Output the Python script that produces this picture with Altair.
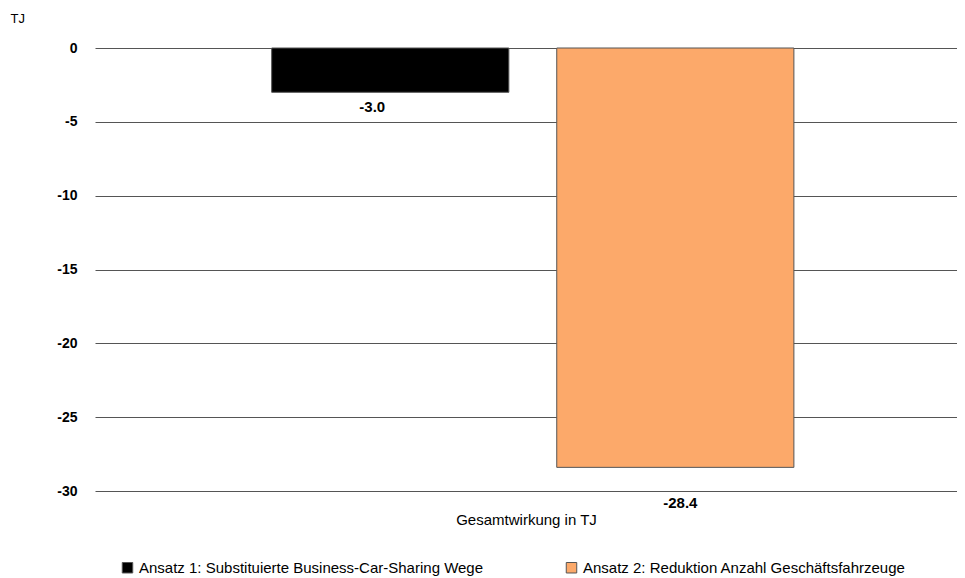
import altair as alt
import pandas as pd

series = ["Ansatz 1: Substituierte Business-Car-Sharing Wege",
          "Ansatz 2: Reduktion Anzahl Geschäftsfahrzeuge"]
values = [-3.0, -28.4]
labels = ["-3.0", "-28.4"]
colors = ["#000000", "#FCA96A"]
category = "Gesamtwirkung in TJ"

df = pd.DataFrame({"series": series, "value": values, "label": labels})

x = alt.X("series:N", sort=series,
          scale=alt.Scale(paddingInner=0.168, paddingOuter=0.596, align=0.52),
          axis=alt.Axis(title=category, labels=False, ticks=False, domain=False,
                        titleFont="Liberation Sans", titleFontSize=15,
                        titleFontWeight="normal", titlePadding=21, titleColor="#000"))
y = alt.Y("value:Q", scale=alt.Scale(domain=[-30, 0], nice=False),
          axis=alt.Axis(values=[0, -5, -10, -15, -20, -25, -30], ticks=False, domain=False,
                        labelExpr="datum.value < 0 ? '-' + abs(datum.value) : '' + datum.value",
                        labelFont="Liberation Sans", labelFontSize=14, labelFontWeight="bold",
                        labelColor="#000", labelPadding=18,
                        gridColor="#555555", gridWidth=1, gridOpacity=1,
                        title="TJ", titleAngle=0, titleX=-85, titleY=-30,
                        titleAlign="left", titleBaseline="middle",
                        titleFont="Liberation Sans", titleFontSize=13,
                        titleFontWeight="normal", titleColor="#000"))

bars = alt.Chart(df).mark_bar(stroke="#555555", strokeWidth=1).encode(
    x=x, y=y,
    color=alt.Color("series:N", sort=series,
                    scale=alt.Scale(domain=series, range=colors),
                    legend=alt.Legend(title=None, orient="none", legendX=25, legendY=512,
                                      direction="horizontal", symbolType="square",
                                      symbolSize=110, symbolStrokeColor="#555555",
                                      symbolStrokeWidth=1, labelFont="Liberation Sans",
                                      labelFontSize=15, labelColor="#000",
                                      labelLimit=600, columnPadding=80, symbolOffset=0))
)

text1 = alt.Chart(df).transform_filter(alt.datum.value > -10).mark_text(
    baseline="top", dy=8, dx=-18, font="Liberation Sans", fontSize=15, fontWeight="bold", color="#000"
).encode(x=alt.X("series:N", sort=series), y="value:Q", text="label:N")

text2 = alt.Chart(df).transform_filter(alt.datum.value <= -10).mark_text(
    baseline="top", dy=29, dx=5, font="Liberation Sans", fontSize=15, fontWeight="bold", color="#000"
).encode(x=alt.X("series:N", sort=series), y="value:Q", text="label:N")

chart = alt.layer(bars, text1, text2).properties(
    width=862, height=443,
    autosize=alt.AutoSizeParams(type="none"),
    padding={"left": 87, "top": 40, "right": 0, "bottom": 88},
    background="white"
).configure_view(stroke=None)

chart.save("out.html", embed_options={"renderer": "svg", "actions": False})
